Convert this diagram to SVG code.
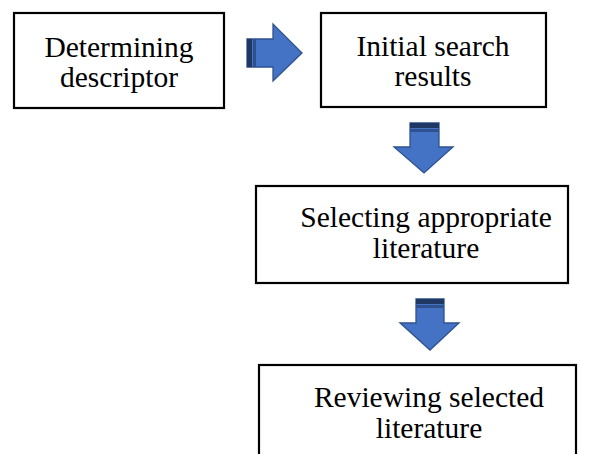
<svg xmlns="http://www.w3.org/2000/svg" width="590" height="454" viewBox="0 0 590 454">
<style>
.box{fill:#fff;stroke:#000;stroke-width:2.2}
.t{font-family:"Liberation Serif","DejaVu Serif",serif;font-size:29.5px;fill:#000;text-anchor:middle}
.arr{fill:#4472C4;stroke:#2F528F;stroke-width:1.3;stroke-linejoin:miter}
.band{fill:#203864}
.band2{fill:#2F528F}
</style>
<rect width="590" height="454" fill="#fff"/>
<g id="n1"><rect class="box" x="14" y="13" width="210" height="95"/><text class="t" x="119" y="57">Determining</text><text class="t" x="119" y="87">descriptor</text></g>
<g id="n2"><rect class="box" x="321" y="13" width="225" height="94"/><text class="t" x="433" y="56">Initial search</text><text class="t" x="433" y="86">results</text></g>
<g id="n3"><rect class="box" x="256" y="186" width="312" height="97"/><text class="t" x="426" y="227">Selecting appropriate</text><text class="t" x="426" y="258">literature</text></g>
<g id="n4"><rect class="box" x="259" y="365" width="317" height="100"/><text class="t" x="429" y="407">Reviewing selected</text><text class="t" x="429" y="438">literature</text></g>
<g id="connectors">
<g id="a1"><path class="arr" d="M247,39 H273 V24 L302,53 L273,81 V67 H247 Z"/><rect class="band" x="247" y="39" width="5" height="28"/><rect class="band2" x="253" y="39" width="3" height="28"/></g>
<g id="a2"><path class="arr" d="M410,123 H439 V147 H453 L424,173 L394,147 H410 Z"/><rect class="band" x="410" y="123" width="29" height="5"/><rect class="band2" x="410" y="129" width="29" height="3"/></g>
<g id="a3"><path class="arr" d="M416,299 H444 V323 H459 L430,350 L400,323 H416 Z"/><rect class="band" x="416" y="299" width="28" height="5"/><rect class="band2" x="416" y="305" width="28" height="3"/></g>
</g>
</svg>
